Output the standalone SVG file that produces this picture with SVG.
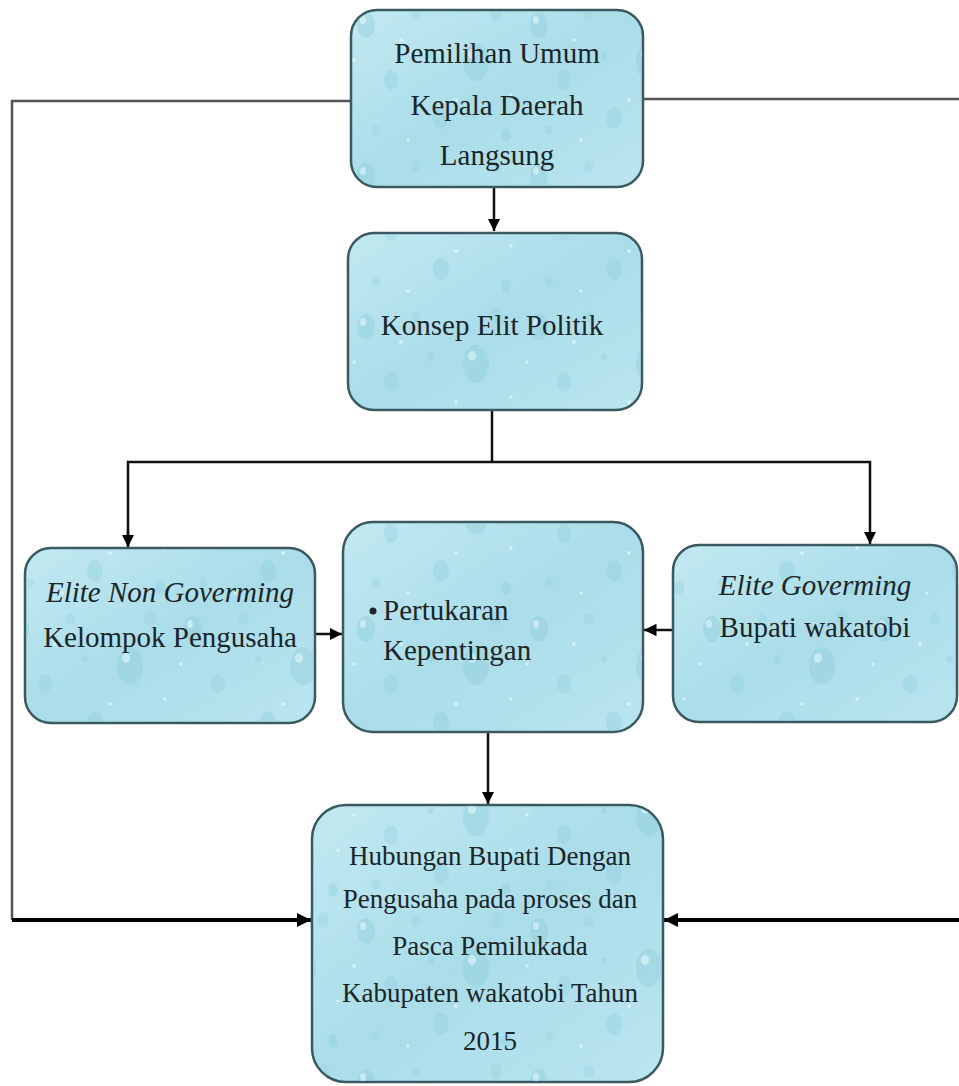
<svg xmlns="http://www.w3.org/2000/svg" width="959" height="1086" viewBox="0 0 959 1086">
  <defs>
    <linearGradient id="bg" x1="0" y1="0" x2="1" y2="1">
      <stop offset="0" stop-color="#c2e9f1"/>
      <stop offset="0.5" stop-color="#aadde9"/>
      <stop offset="1" stop-color="#bae5ee"/>
    </linearGradient>
    <pattern id="drops" patternUnits="userSpaceOnUse" width="173" height="151">
      <ellipse cx="20" cy="25" rx="9" ry="13" fill="#8ccbdc" opacity="0.4"/>
      <ellipse cx="17" cy="20" rx="3" ry="4" fill="#e6f7fb" opacity="0.6"/>
      <ellipse cx="70" cy="15" rx="5" ry="6" fill="#93d0df" opacity="0.35"/>
      <ellipse cx="130" cy="62" rx="13" ry="19" fill="#88c8da" opacity="0.35"/>
      <ellipse cx="126" cy="54" rx="4" ry="5" fill="#e6f7fb" opacity="0.55"/>
      <ellipse cx="45" cy="80" rx="7" ry="10" fill="#8fcddd" opacity="0.35"/>
      <ellipse cx="30" cy="130" rx="4" ry="5" fill="#93d0df" opacity="0.35"/>
      <ellipse cx="95" cy="118" rx="8" ry="11" fill="#8ccbdc" opacity="0.35"/>
      <ellipse cx="160" cy="135" rx="5" ry="7" fill="#8ccbdc" opacity="0.35"/>
      <ellipse cx="150" cy="14" rx="6" ry="8" fill="#93d0df" opacity="0.3"/>
      <ellipse cx="85" cy="55" rx="3" ry="4" fill="#8ccbdc" opacity="0.35"/>
      <circle cx="55" cy="40" r="2" fill="#e6f7fb" opacity="0.7"/>
      <circle cx="110" cy="100" r="2" fill="#e6f7fb" opacity="0.7"/>
      <circle cx="8" cy="60" r="1.8" fill="#e6f7fb" opacity="0.7"/>
      <circle cx="165" cy="95" r="1.8" fill="#e6f7fb" opacity="0.7"/>
      <circle cx="62" cy="140" r="1.8" fill="#e6f7fb" opacity="0.7"/>
    </pattern>
    <marker id="arr" viewBox="0 0 10 10" refX="10" refY="5" markerWidth="5" markerHeight="5" markerUnits="strokeWidth" orient="auto">
      <path d="M0,0 L10,5 L0,10 z" fill="#000"/>
    </marker>
    <marker id="arrB" viewBox="0 0 10 10" refX="10" refY="5" markerWidth="3.6" markerHeight="3.6" markerUnits="strokeWidth" orient="auto">
      <path d="M0,0 L10,5 L0,10 z" fill="#000"/>
    </marker>
  </defs>
  <style>
    .box { stroke: #3b5960; stroke-width: 2.5; }
    .tex { fill: url(#drops); stroke: none; }
    .t { font-family: "Liberation Serif", "Times New Roman", serif; font-size: 29px; fill: #1a2629; text-anchor: middle; }
    .s { font-size: 27px; }
    .it { font-style: italic; }
    .st { text-anchor: start; }
    .ln { stroke: #111; stroke-width: 2.5; fill: none; }
    .gr { stroke: #555; stroke-width: 2.5; fill: none; }
    .thick { stroke: #000; stroke-width: 4; fill: none; }
  </style>
  <rect width="959" height="1086" fill="#fff"/>

  <g id="connectors">
    <polyline class="gr" points="352,101 12,101 12,920"/>
    <line class="gr" x1="643" y1="99" x2="959" y2="99"/>
    <line class="thick" x1="12" y1="920" x2="311" y2="920" marker-end="url(#arrB)"/>
    <line class="thick" x1="959" y1="920" x2="664" y2="920" marker-end="url(#arrB)"/>
    <line class="ln" x1="494" y1="188" x2="494" y2="231" marker-end="url(#arr)"/>
    <polyline class="ln" points="492,410 492,462"/>
    <polyline class="ln" points="128,546 128,462 870,462 870,544" marker-end="url(#arr)"/>
    <line class="ln" x1="128" y1="530" x2="128" y2="547" marker-end="url(#arr)"/>
    <line class="ln" x1="315" y1="634" x2="342" y2="634" marker-end="url(#arr)"/>
    <line class="ln" x1="673" y1="630" x2="644" y2="630" marker-end="url(#arr)"/>
    <line class="ln" x1="488" y1="732" x2="488" y2="804" marker-end="url(#arr)"/>
  </g>

  <g id="node-pemilihan">
    <rect class="box" x="351" y="10" width="292" height="177" rx="26" fill="url(#bg)"/>
    <rect class="tex" x="352" y="11" width="290" height="175" rx="25"/>
    <text class="t" x="497" y="63">Pemilihan Umum</text>
    <text class="t" x="497" y="115">Kepala Daerah</text>
    <text class="t" x="497" y="165">Langsung</text>
  </g>

  <g id="node-konsep">
    <rect class="box" x="348" y="233" width="294" height="177" rx="26" fill="url(#bg)"/>
    <rect class="tex" x="349" y="234" width="292" height="175" rx="25"/>
    <text class="t" x="492" y="335">Konsep Elit Politik</text>
  </g>

  <g id="node-nongoverning">
    <rect class="box" x="25" y="548" width="290" height="175" rx="26" fill="url(#bg)"/>
    <rect class="tex" x="26" y="549" width="288" height="173" rx="25"/>
    <text class="t it" x="170" y="602">Elite Non Goverming</text>
    <text class="t" x="170" y="647">Kelompok Pengusaha</text>
  </g>

  <g id="node-pertukaran">
    <rect class="box" x="343" y="522" width="300" height="210" rx="30" fill="url(#bg)"/>
    <rect class="tex" x="344" y="523" width="298" height="208" rx="29"/>
    <circle cx="373" cy="611" r="3.5" fill="#1a2629"/>
    <text class="t st" x="383" y="620">Pertukaran</text>
    <text class="t st" x="383" y="660">Kepentingan</text>
  </g>

  <g id="node-governing">
    <rect class="box" x="673" y="545" width="284" height="177" rx="26" fill="url(#bg)"/>
    <rect class="tex" x="674" y="546" width="282" height="175" rx="25"/>
    <text class="t it" x="815" y="595">Elite Goverming</text>
    <text class="t" x="815" y="637">Bupati wakatobi</text>
  </g>

  <g id="node-hubungan">
    <rect class="box" x="312" y="805" width="351" height="277" rx="34" fill="url(#bg)"/>
    <rect class="tex" x="313" y="806" width="349" height="275" rx="33"/>
    <text class="t s" x="490" y="865">Hubungan Bupati Dengan</text>
    <text class="t s" x="490" y="908">Pengusaha pada proses dan</text>
    <text class="t s" x="490" y="955">Pasca Pemilukada</text>
    <text class="t s" x="490" y="1002">Kabupaten wakatobi Tahun</text>
    <text class="t s" x="490" y="1050">2015</text>
  </g>
</svg>
